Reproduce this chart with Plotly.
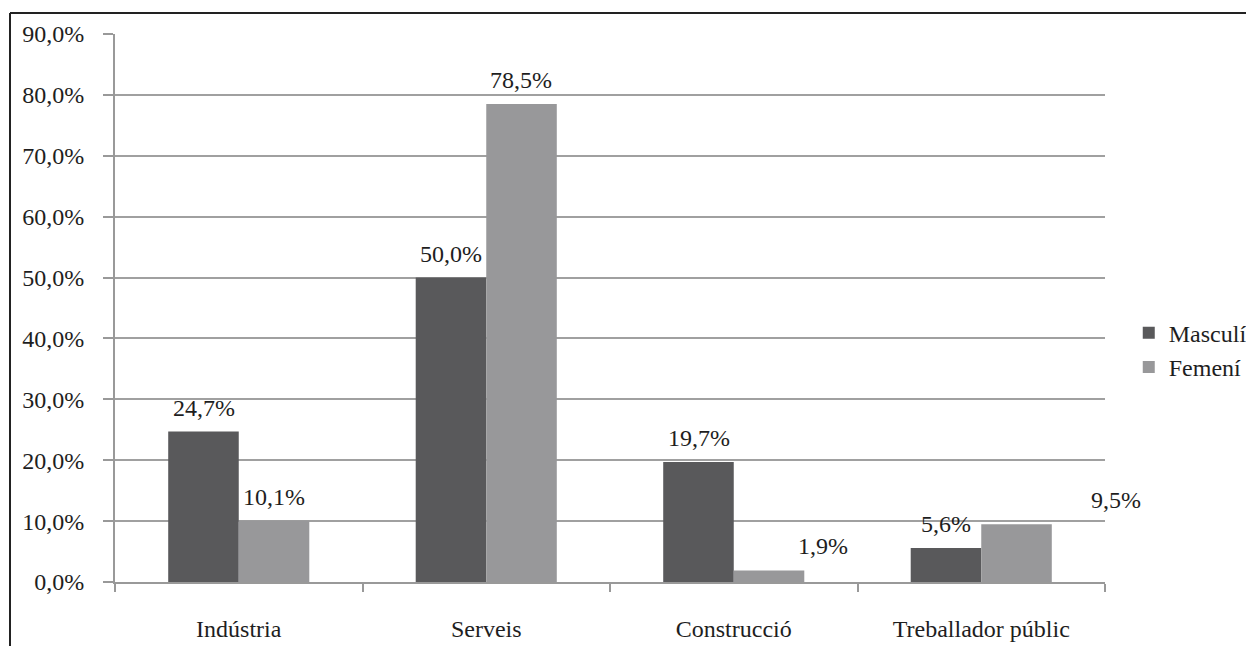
import plotly.graph_objects as go

categories = ["Indústria", "Serveis", "Construcció", "Treballador públic"]
masculi = [24.7, 50.0, 19.7, 5.6]
femeni = [10.1, 78.5, 1.9, 9.5]
y_ticks = [0, 10, 20, 30, 40, 50, 60, 70, 80, 90]
series_names = ["Masculí", "Femení"]

FONT = "Liberation Serif"
FS = 24
TXT = "#1e1e1e"
DARK = "#59595b"
LIGHT = "#98989a"

def fmt(v):
    return f"{v:.1f}".replace(".", ",") + "%"

fig = go.Figure()
fig.add_trace(go.Bar(x=categories, y=masculi, name=series_names[0],
                     marker=dict(color=DARK, line=dict(width=0))))
fig.add_trace(go.Bar(x=categories, y=femeni, name=series_names[1],
                     marker=dict(color=LIGHT, line=dict(width=0))))

# extra x-shifts (pixels) for the femení labels that were moved aside
fem_xshift = [0, 0, 54, 100]

annotations = []
for i, c in enumerate(categories):
    annotations.append(dict(x=c, y=masculi[i], xref="x", yref="y", text=fmt(masculi[i]),
                            showarrow=False, xshift=-35, yshift=24, yanchor="middle",
                            font=dict(family=FONT, size=FS, color=TXT)))
    annotations.append(dict(x=c, y=femeni[i], xref="x", yref="y", text=fmt(femeni[i]),
                            showarrow=False, xshift=35 + fem_xshift[i], yshift=24, yanchor="middle",
                            font=dict(family=FONT, size=FS, color=TXT)))

# page has an 8px body margin; figure coordinates = reference - 8
W, H = 1246, 638
L, T = 107, 26
R = W - 1097
B = H - 574
pw, ph = W - L - R, H - T - B
fx0 = (2 - L) / pw
fy0 = (H - 5 - B) / ph

shapes = [
    dict(type="line", xref="paper", yref="paper", x0=fx0, x1=(W - L) / pw + 0.02,
         y0=fy0, y1=fy0, line=dict(color="#222", width=2)),
    dict(type="line", xref="paper", yref="paper", x0=fx0, x1=fx0,
         y0=fy0, y1=-B / ph - 0.02, line=dict(color="#222", width=2)),
]

fig.update_layout(
    width=W, height=H,
    margin=dict(l=L, r=R, t=T, b=B, autoexpand=False),
    paper_bgcolor="white", plot_bgcolor="white",
    barmode="group", bargap=0.43, bargroupgap=0,
    font=dict(family=FONT, size=FS, color=TXT),
    annotations=annotations,
    shapes=shapes,
    showlegend=True,
    legend=dict(x=1.024, y=0.423, xanchor="left", yanchor="middle",
                font=dict(family=FONT, size=FS, color=TXT),
                itemwidth=30, tracegroupgap=0, bgcolor="rgba(0,0,0,0)"),
)
fig.update_yaxes(range=[0, 90], tickvals=y_ticks,
                 ticktext=[fmt(v) for v in y_ticks],
                 showgrid=True, gridcolor="#a0a0a0", gridwidth=2,
                 showline=True, linecolor="#999", linewidth=2,
                 ticks="outside", ticklen=10, tickcolor="#999", tickwidth=2,
                 ticklabelstandoff=14, zeroline=False,
                 tickfont=dict(family=FONT, size=FS, color=TXT))
fig.update_xaxes(range=[-0.5, len(categories) - 0.5],
                 showline=True, linecolor="#999", linewidth=2,
                 ticks="outside", tickson="boundaries", ticklen=8, tickcolor="#999", tickwidth=2,
                 ticklabelstandoff=24, showgrid=False,
                 tickfont=dict(family=FONT, size=FS, color=TXT))

fig.write_html("out.html")
